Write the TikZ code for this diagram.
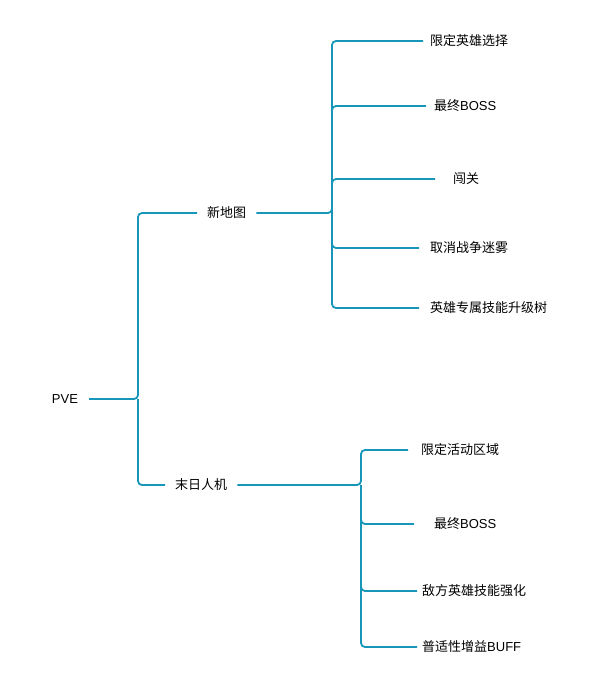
\documentclass[tikz,border=0pt]{standalone}
\usepackage{fontspec}
\setmainfont{Liberation Sans}
\newfontfamily\cjk{Noto Sans CJK SC}
\definecolor{linkc}{RGB}{24,150,186}
\begin{document}
\begin{tikzpicture}[x=1pt,y=-1pt,
  lbl/.style={font=\fontsize{13}{15}\selectfont, inner ysep=2pt, anchor=west},
  link/.style={draw=linkc, line width=1.8pt, rounded corners=4pt}]
\useasboundingbox (0,0) rectangle (593,677);
% root and level one
\node[lbl, inner xsep=0pt, anchor=center] (pve) at (65,399) {PVE};
\node[lbl, inner xsep=10pt] (map) at (197,213) {\cjk 新地图};
\node[lbl, inner xsep=10pt] (doom) at (165,485) {\cjk 末日人机};
% level two, upper group
\node[lbl, inner xsep=7pt] (m1) at (423,41) {\cjk 限定英雄选择};
\node[lbl, inner xsep=8pt] (m2) at (426,106) {{\cjk 最终}BOSS};
\node[lbl, inner xsep=18pt] (m3) at (435,179) {\cjk 闯关};
\node[lbl, inner xsep=11pt] (m4) at (419,248) {\cjk 取消战争迷雾};
\node[lbl, inner xsep=11pt] (m5) at (419,308) {\cjk 英雄专属技能升级树};
% level two, lower group
\node[lbl, inner xsep=13pt] (d1) at (408,450) {\cjk 限定活动区域};
\node[lbl, inner xsep=20pt] (d2) at (414,524) {{\cjk 最终}BOSS};
\node[lbl, inner xsep=5pt] (d3) at (417,591) {\cjk 敌方英雄技能强化};
\node[lbl, inner xsep=5pt] (d4) at (417,647) {{\cjk 普适性增益}BUFF};
% junction points
\coordinate (j0) at (138,399);
\coordinate (j1) at (332,213);
\coordinate (j2) at (361,485);
% connectors
\draw[link] ([xshift=11pt]pve.east) -- (j0) |- (map.west);
\draw[link] (j0) |- (doom.west);
\draw[link] (map.east) -- (j1) |- (m1.west);
\draw[link] (j1) |- (m2.west);
\draw[link] (j1) |- (m3.west);
\draw[link] (j1) |- (m4.west);
\draw[link] (j1) |- (m5.west);
\draw[link] (doom.east) -- (j2) |- (d1.west);
\draw[link] (j2) |- (d2.west);
\draw[link] (j2) |- (d3.west);
\draw[link] (j2) |- (d4.west);
\end{tikzpicture}
\end{document}
